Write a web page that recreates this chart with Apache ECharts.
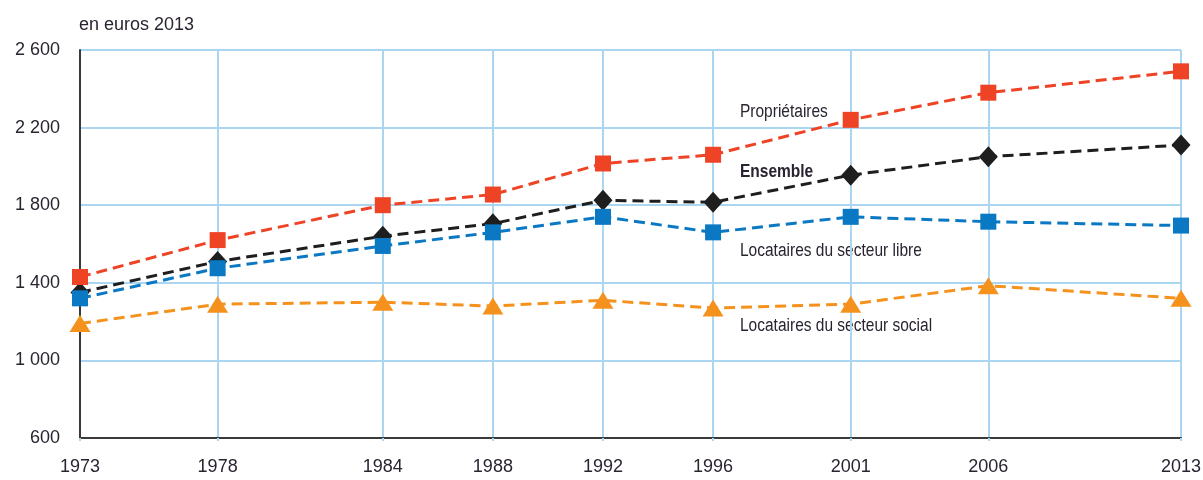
<!DOCTYPE html>
<html lang="fr" style="height: 100%">
<head>
  <meta charset="utf-8">
</head>
<body style="height: 100%; margin: 0; background: #fff">
  <div id="container" style="width: 1203px; height: 480px"></div>

  <script type="text/javascript" src="https://cdn.jsdelivr.net/npm/echarts@6/dist/echarts.min.js"></script>
  <script type="text/javascript">
    var dom = document.getElementById('container');
    var myChart = echarts.init(dom, null, { renderer: 'canvas' });

    var FONT = '"Liberation Sans", Arial, sans-serif';

    // années (axe proportionnel)
    const years = [1973, 1978, 1984, 1988, 1992, 1996, 2001, 2006, 2013];
    // en euros 2013
    const proprietaires = [1430, 1620, 1800, 1855, 2015, 2060, 2240, 2380, 2490];
    const ensemble = [1350, 1510, 1640, 1705, 1825, 1815, 1955, 2050, 2110];
    const locLibre = [1320, 1475, 1590, 1660, 1740, 1660, 1740, 1715, 1695];
    const locSocial = [1190, 1290, 1300, 1280, 1310, 1270, 1290, 1385, 1320];
    const yTicks = [600, 1000, 1400, 1800, 2200, 2600];

    function pairs(vals) {
      return years.map(function (y, i) { return [y, vals[i]]; });
    }

    function mkSeries(name, vals, color, symbol, size) {
      return {
        name: name,
        type: 'line',
        data: pairs(vals),
        symbol: symbol,
        symbolSize: size,
        lineStyle: { color: color, width: 3, type: [11, 6] },
        itemStyle: { color: color },
        animation: false
      };
    }

    function lbl(text, y, bold) {
      return {
        type: 'text', x: 740, y: y, scaleY: 1.15,
        style: {
          text: text, fontFamily: FONT, fontSize: 15.5,
          fontWeight: bold ? 'bold' : 'normal', fill: '#2a2430', verticalAlign: 'middle'
        }
      };
    }

    var option = {
      title: {
        text: 'en euros 2013',
        left: 74,
        top: 11,
        textStyle: { fontFamily: FONT, fontSize: 18, fontWeight: 'normal', color: '#2a2430' }
      },
      grid: { left: 80, right: 22, top: 50, bottom: 42, containLabel: false, outerBoundsMode: 'none' },
      xAxis: {
        type: 'value',
        min: 1973,
        max: 2013,
        axisLine: { show: true, onZero: false, lineStyle: { color: '#3a3a3a', width: 2 } },
        axisTick: { show: true, length: 3, lineStyle: { color: '#aad6f2', width: 2 }, customValues: years },
        axisLabel: {
          customValues: years,
          margin: 20,
          fontFamily: FONT, fontSize: 18, color: '#2a2430',
          formatter: function (v) { return String(v); }
        },
        splitLine: { show: true, lineStyle: { color: '#aad6f2', width: 2 } }
      },
      yAxis: {
        type: 'value',
        min: 600,
        max: 2600,
        interval: 400,
        axisLine: { show: true, lineStyle: { color: '#3a3a3a', width: 2 } },
        axisTick: { show: false },
        axisLabel: {
          margin: 20,
          fontFamily: FONT, fontSize: 18, color: '#2a2430',
          formatter: function (v) {
            return yTicks.indexOf(v) < 0 ? '' : String(v).replace(/\B(?=(\d{3})+(?!\d))/g, ' ');
          }
        },
        splitLine: { show: true, lineStyle: { color: '#aad6f2', width: 2 } }
      },
      graphic: [
        lbl('Propriétaires', 112, false),
        lbl('Ensemble', 172, true),
        lbl('Locataires du secteur libre', 251, false),
        lbl('Locataires du secteur social', 326, false)
      ],
      series: [
        mkSeries('Locataires du secteur social', locSocial, '#f5921e', 'triangle', [21, 17]),
        mkSeries('Ensemble', ensemble, '#1e1e1e', 'diamond', [19, 21]),
        mkSeries('Locataires du secteur libre', locLibre, '#0a78c3', 'rect', [16, 16]),
        mkSeries('Propriétaires', proprietaires, '#ee4324', 'rect', [16, 16])
      ]
    };

    myChart.setOption(option);
    window.addEventListener('resize', myChart.resize);
  </script>
</body>
</html>
